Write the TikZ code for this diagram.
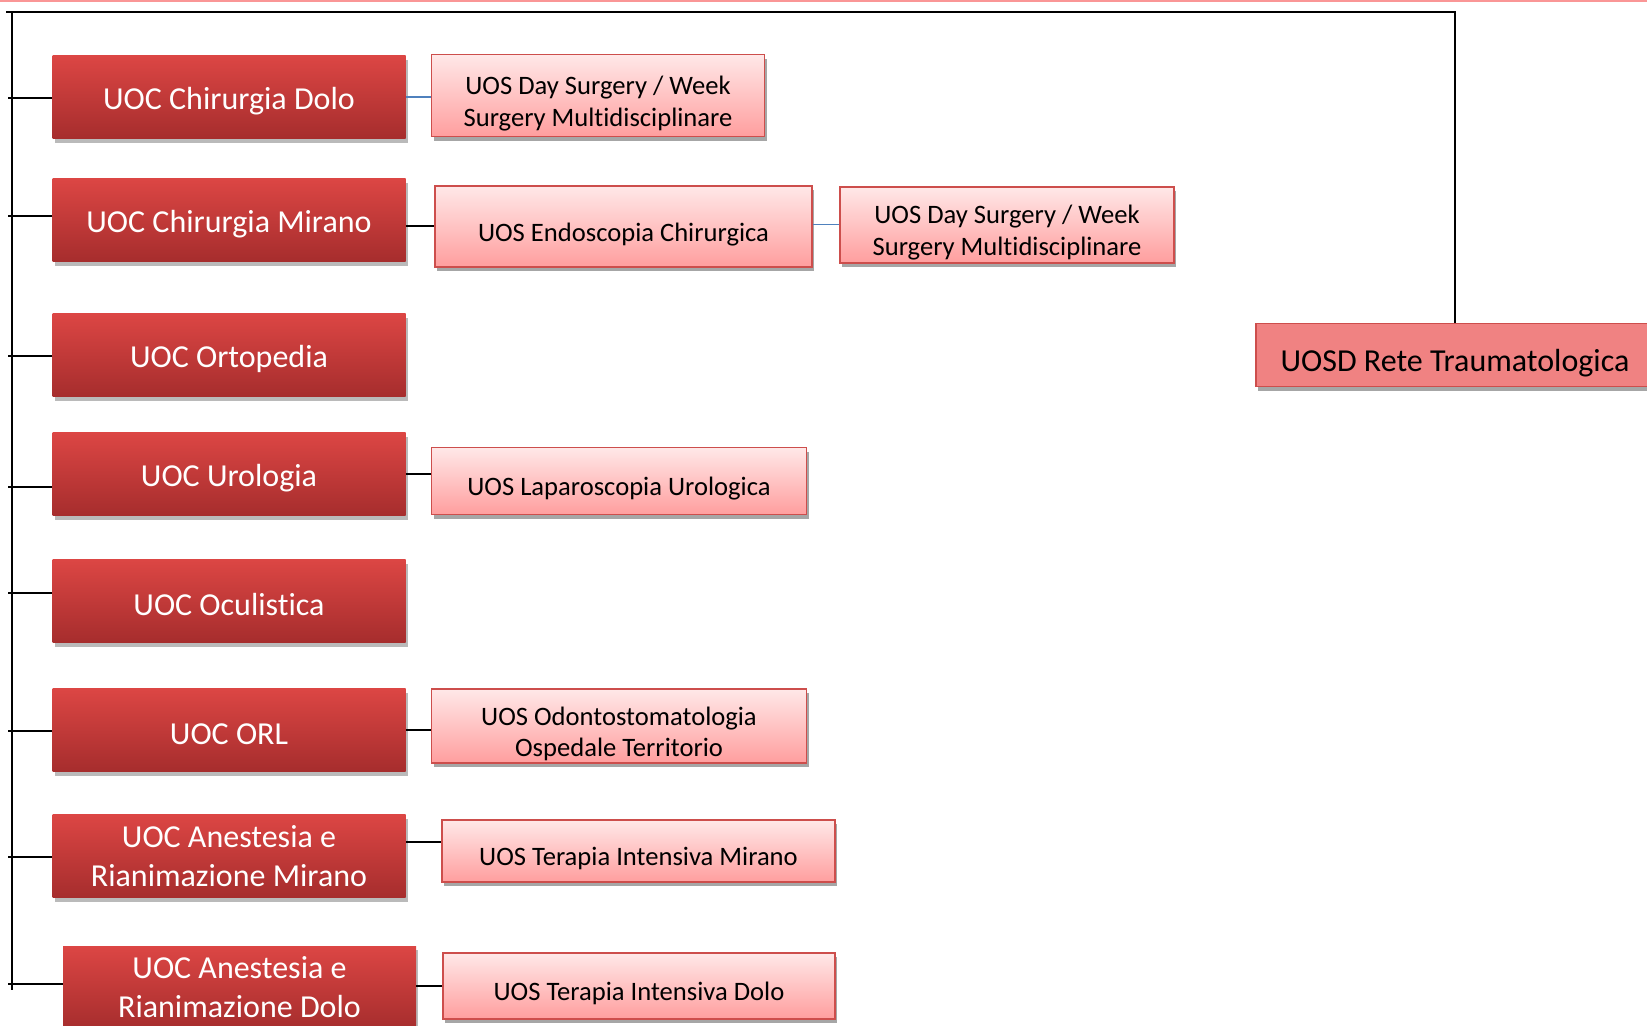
\documentclass[tikz,border=0pt]{standalone}
\usepackage{fontspec}
\setmainfont{Carlito}[Ligatures=NoCommon]
\usetikzlibrary{shadows}
\definecolor{uocTop}{RGB}{220,70,68}
\definecolor{uocBot}{RGB}{166,45,45}
\definecolor{uosTop}{RGB}{255,232,232}
\definecolor{uosBot}{RGB}{255,158,158}
\definecolor{uosLine}{RGB}{205,78,76}
\definecolor{uosdFill}{RGB}{240,130,130}
\definecolor{linkBlue}{RGB}{79,129,189}
\definecolor{edgePink}{RGB}{250,150,150}
\newcommand{\lowline}{\rule{0pt}{17pt}}
\begin{document}
\begin{tikzpicture}[x=0.5pt, y=-0.5pt,
		uoc/.style={rectangle, top color=uocTop, bottom color=uocBot, text=white, align=center, minimum width=176.5pt, minimum height=41.5pt, inner sep=2pt, font=\fontsize{16}{19.5}\selectfont, execute at begin node={\rule{0pt}{15pt}}, drop shadow={shadow xshift=1pt, shadow yshift=-2pt, fill=black!45, opacity=0.6}},
		uos/.style={rectangle, draw=uosLine, line width=0.8pt, top color=uosTop, bottom color=uosBot, align=center, inner xsep=2pt, inner ysep=0pt, font=\fontsize{13.3}{15.8}\selectfont, execute at begin node={\rule{0pt}{17pt}}, drop shadow={shadow xshift=1pt, shadow yshift=-2pt, fill=black!35, opacity=1}},
		uosd/.style={rectangle, draw=uosLine, line width=0.8pt, fill=uosdFill, minimum width=199pt, minimum height=31.5pt, font=\fontsize{16}{19.5}\selectfont, execute at begin node={\rule{0pt}{19pt}}, drop shadow={shadow xshift=1pt, shadow yshift=-2pt, fill=black!35, opacity=1}},
		link/.style={line width=1pt},
		bluelink/.style={linkBlue, line width=0.7pt}]
			\useasboundingbox (0,0) rectangle (1647,1025);
			\draw[edgePink, line width=0.8pt] (0,1) -- (1647,1);
			
			\node[uoc] (c1) at (229,97) {UOC Chirurgia Dolo};
			\node[uoc] (c2) at (229,220) {UOC Chirurgia Mirano};
			\node[uoc] (c3) at (229,355) {UOC Ortopedia};
			\node[uoc] (c4) at (229,474) {UOC Urologia};
			\node[uoc] (c5) at (229,601) {UOC Oculistica};
			\node[uoc] (c6) at (229,730) {UOC ORL};
			\node[uoc] (c7) at (229,856) {UOC Anestesia e\\Rianimazione Mirano};
			\node[uoc] (c8) at (239.5,987.5) {UOC Anestesia e\\Rianimazione Dolo};
			
			\node[uos, minimum width=166.5pt, minimum height=41pt] (s1) at (598,95.6) {\lowline UOS Day Surgery / Week\\Surgery Multidisciplinare};
			\node[uos, minimum width=188.5pt, minimum height=40.4pt] (s2) at (623.5,226.4) {UOS Endoscopia Chirurgica};
			\node[uos, minimum width=167pt, minimum height=38pt] (s3) at (1007,224.7) {\lowline UOS Day Surgery / Week\\Surgery Multidisciplinare};
			\node[uos, minimum width=187.5pt, minimum height=33.5pt] (s4) at (619,481) {UOS Laparoscopia Urologica};
			\node[uos, minimum width=187.5pt, minimum height=36.8pt] (s5) at (619,726) {\lowline UOS Odontostomatologia\\Ospedale Territorio};
			\node[uos, minimum width=196.5pt, minimum height=31pt] (s6) at (638.5,851) {UOS Terapia Intensiva Mirano};
			\node[uos, minimum width=196pt, minimum height=33pt] (s7) at (639,986) {UOS Terapia Intensiva Dolo};
			
			\node[uosd] (u1) at (1455,355) {UOSD Rete Traumatologica};
			
			\coordinate (top) at (6,11.5);
			\coordinate (bus) at (11.5,11.5);
			\coordinate (end) at (11.5,990);
			\draw[link] (top) -- (top -| u1.north) -- (u1.north);
			\draw[link] (bus) -- (end);
			\foreach \i/\y in {1/98,2/216,3/356,4/487,5/593,6/731,7/857,8/984}{
				\coordinate (b\i) at (8,\y);
				\draw[link] (b\i) -- (b\i -| c\i.west);
			}
			
			\draw[bluelink] (c1.east) -- (c1.east -| s1.west);
			\draw[link] (c2.east |- s2.west) -- (s2.west);
			\draw[bluelink] (s2.east |- s3.west) -- (s3.west);
			\draw[link] (c4.east) -- (c4.east -| s4.west);
			\draw[link] (c6.east) -- (c6.east -| s5.west);
			\draw[link] ([yshift=7pt]c7.east) -- ([yshift=7pt]c7.east -| s6.west);
			\draw[link] (s7.west -| c8.east) -- (s7.west);
		\end{tikzpicture}
\end{document}
